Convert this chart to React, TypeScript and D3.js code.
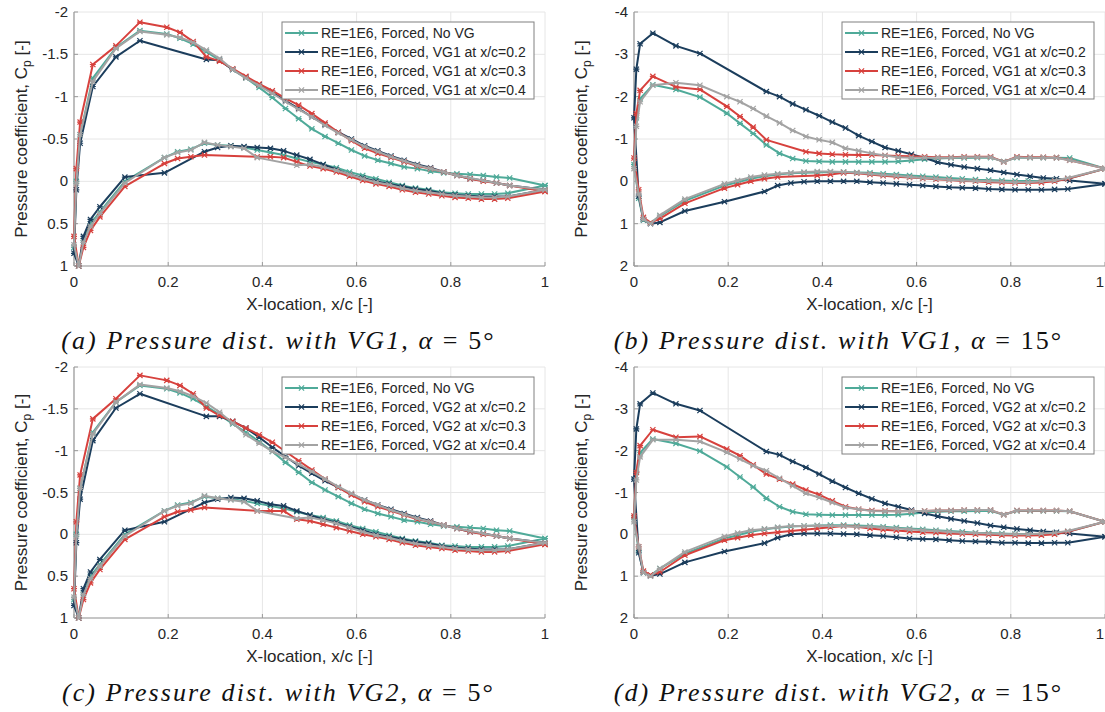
import React from 'react';
import * as d3 from 'd3';

// Pressure-tap chord positions (x/c)
const XU = [0, 0.005, 0.013, 0.04, 0.089, 0.14, 0.197, 0.225, 0.253, 0.281, 0.309, 0.337, 0.365, 0.393, 0.421, 0.449, 0.477, 0.505, 0.533, 0.561, 0.589, 0.617, 0.645, 0.673, 0.701, 0.729, 0.757, 0.785, 0.813, 0.841, 0.869, 0.897, 0.925, 1.0];
const XL = [0.01, 0.02, 0.035, 0.055, 0.108, 0.192, 0.22, 0.248, 0.277, 0.305, 0.333, 0.361, 0.389, 0.417, 0.445, 0.473, 0.501, 0.529, 0.557, 0.585, 0.613, 0.641, 0.669, 0.697, 0.725, 0.753, 0.781, 0.809, 0.837, 0.865, 0.893, 0.921];

type V = number | null;

// alpha = 5 deg, clean airfoil
const NOVG_5_U: V[] = [0.78, 0.0, -0.55, -1.22, -1.58, -1.78, -1.74, -1.69, -1.62, -1.53, -1.43, -1.32, -1.22, -1.11, -0.99, -0.86, -0.74, -0.62, -0.53, -0.45, -0.37, -0.30, -0.25, -0.21, -0.17, -0.15, -0.12, -0.10, -0.09, -0.08, -0.07, -0.05, -0.04, 0.05];
const NOVG_5_L: V[] = [1.0, 0.7, 0.5, 0.36, 0.0, -0.28, -0.35, -0.38, -0.45, -0.43, -0.42, -0.40, -0.37, -0.34, -0.31, -0.27, -0.23, -0.20, -0.16, -0.11, -0.07, -0.03, 0.01, 0.05, 0.08, 0.10, 0.13, 0.14, 0.15, 0.15, 0.15, 0.14];

// alpha = 15 deg, clean airfoil
const NOVG_15_U: V[] = [-0.4, -1.5, -1.95, -2.28, -2.17, -1.99, -1.61, -1.37, -1.13, -0.86, -0.66, -0.54, -0.48, -0.47, -0.46, -0.46, -0.46, -0.46, -0.46, -0.47, -0.49, -0.52, -0.54, -0.55, -0.55, -0.56, -0.56, -0.47, -0.56, -0.56, -0.56, -0.56, -0.55, -0.3];
const NOVG_15_L: V[] = [0.4, 0.92, 0.98, 0.82, 0.46, 0.1, 0.02, -0.06, -0.12, -0.16, -0.19, -0.2, -0.21, -0.22, -0.22, -0.21, -0.2, -0.18, -0.16, -0.14, -0.12, -0.1, -0.08, -0.06, -0.04, -0.03, -0.02, -0.01, -0.01, -0.01, -0.03, -0.06];

// VG1, alpha = 5 deg
const VG1_5_02_U: V[] = [0.85, 0.1, -0.45, -1.12, -1.47, -1.66, null, null, null, -1.44, -1.43, -1.32, -1.23, -1.14, -1.05, -0.95, -0.86, -0.76, -0.67, -0.58, -0.50, -0.42, -0.36, -0.30, -0.25, -0.20, -0.16, -0.11, -0.07, -0.03, -0.01, 0.02, 0.05, 0.1];
const VG1_5_02_L: V[] = [1.0, 0.65, 0.45, 0.3, -0.05, -0.1, null, null, -0.35, -0.40, -0.42, -0.41, -0.40, -0.39, -0.36, -0.31, -0.26, -0.20, -0.14, -0.08, -0.04, 0.0, 0.03, 0.06, 0.09, 0.11, 0.14, 0.16, 0.17, 0.18, 0.18, 0.18];
const VG1_5_03_U: V[] = [0.65, -0.15, -0.7, -1.38, -1.6, -1.88, -1.82, -1.76, -1.65, -1.47, -1.42, -1.33, -1.24, -1.15, -1.07, -0.98, -0.90, -0.80, -0.69, -0.58, -0.48, -0.39, -0.33, -0.28, -0.23, -0.18, -0.15, -0.11, -0.07, -0.03, 0.0, 0.02, 0.05, 0.12];
const VG1_5_03_L: V[] = [1.0, 0.78, 0.58, 0.42, 0.06, -0.21, -0.27, -0.29, -0.31, null, null, null, -0.29, -0.29, -0.28, -0.23, -0.18, -0.15, -0.11, -0.06, -0.01, 0.03, 0.06, 0.1, 0.13, 0.15, 0.17, 0.19, 0.2, 0.21, 0.21, 0.2];
const VG1_5_04_U: V[] = [0.75, 0.02, -0.55, -1.18, -1.57, -1.77, -1.73, -1.70, -1.64, -1.55, -1.45, -1.32, -1.22, -1.13, -1.04, -0.94, -0.85, -0.76, -0.66, -0.57, -0.49, -0.41, -0.35, -0.29, -0.24, -0.19, -0.15, -0.11, -0.07, -0.04, -0.01, 0.02, 0.05, 0.1];
const VG1_5_04_L: V[] = [1.0, 0.72, 0.53, 0.38, 0.02, -0.28, -0.34, -0.37, -0.46, -0.43, -0.41, -0.39, -0.28, null, null, -0.19, -0.2, -0.17, -0.13, -0.08, -0.03, 0.01, 0.04, 0.08, 0.11, 0.13, 0.15, 0.17, 0.18, 0.19, 0.19, 0.18];

// VG1, alpha = 15 deg
const VG1_15_02_U: V[] = [-1.5, -2.65, -3.25, -3.5, -3.2, -3.02, null, null, null, -2.12, -2.0, -1.83, -1.69, -1.55, -1.4, -1.26, -1.08, -0.94, -0.8, -0.72, -0.64, -0.55, -0.45, -0.39, -0.34, -0.3, -0.26, -0.21, -0.16, -0.12, -0.08, -0.06, -0.02, 0.06];
const VG1_15_02_L: V[] = [0.35, 0.9, 1.0, 0.97, 0.7, 0.48, null, null, 0.24, 0.1, 0.04, 0.01, 0.0, 0.0, 0.0, 0.0, 0.02, 0.04, 0.06, 0.08, 0.1, 0.12, 0.14, 0.15, 0.16, 0.18, 0.19, 0.2, 0.2, 0.2, 0.19, 0.18];
const VG1_15_03_U: V[] = [-0.55, -1.6, -2.15, -2.48, -2.23, -2.17, -1.77, -1.53, -1.28, -0.98, null, null, -0.7, -0.66, -0.64, -0.63, -0.62, -0.62, -0.61, -0.6, -0.59, -0.58, -0.57, -0.57, -0.58, -0.58, -0.58, -0.46, -0.58, -0.57, -0.57, -0.56, -0.5, -0.3];
const VG1_15_03_L: V[] = [0.2, 0.85, 0.98, 0.88, 0.52, 0.16, 0.08, 0.0, -0.06, -0.1, null, null, -0.14, -0.16, -0.2, -0.19, -0.16, -0.13, -0.11, -0.09, -0.07, -0.05, -0.03, -0.01, 0.0, 0.02, 0.03, 0.04, 0.04, 0.03, 0.0, -0.06];
const VG1_15_04_U: V[] = [-0.3, -1.3, -1.88, -2.27, -2.33, -2.27, -2.0, -1.88, -1.72, -1.54, -1.38, -1.2, -1.06, -0.98, -0.92, -0.78, -0.72, -0.66, -0.61, -0.57, -0.56, -0.56, -0.56, -0.56, -0.57, -0.57, -0.57, -0.46, -0.57, -0.56, -0.56, -0.55, -0.5, -0.3];
const VG1_15_04_L: V[] = [0.3, 0.9, 1.0, 0.8, 0.42, 0.06, -0.02, -0.1, -0.15, -0.18, -0.2, -0.22, -0.23, -0.23, -0.22, -0.2, -0.18, -0.15, -0.13, -0.1, -0.08, -0.06, -0.04, -0.02, -0.01, 0.0, 0.01, 0.02, 0.02, 0.0, -0.02, -0.08];

// VG2, alpha = 5 deg
const VG2_5_02_U: V[] = [0.85, 0.1, -0.42, -1.12, -1.51, -1.68, null, null, null, -1.41, -1.41, -1.35, -1.27, -1.16, -1.04, -0.93, -0.82, -0.73, -0.64, -0.56, -0.48, -0.41, -0.35, -0.30, -0.25, -0.20, -0.16, -0.11, -0.07, -0.03, -0.01, 0.02, 0.05, 0.1];
const VG2_5_02_L: V[] = [1.0, 0.65, 0.45, 0.3, -0.05, -0.15, null, null, -0.38, -0.42, -0.44, -0.43, -0.40, -0.36, -0.34, -0.28, -0.23, -0.18, -0.14, -0.09, -0.05, 0.0, 0.03, 0.06, 0.09, 0.11, 0.14, 0.16, 0.17, 0.18, 0.18, 0.18];
const VG2_5_03_U: V[] = [0.65, -0.15, -0.71, -1.38, -1.62, -1.9, -1.84, -1.78, -1.68, -1.51, -1.42, -1.35, -1.27, -1.19, -1.1, -0.99, -0.88, -0.77, -0.66, -0.56, -0.47, -0.39, -0.33, -0.28, -0.23, -0.18, -0.15, -0.11, -0.07, -0.03, 0.0, 0.02, 0.05, 0.12];
const VG2_5_03_L: V[] = [1.0, 0.78, 0.58, 0.42, 0.06, -0.21, -0.27, -0.29, -0.32, null, null, null, -0.28, -0.28, -0.28, -0.18, -0.16, -0.12, -0.08, -0.04, 0.0, 0.03, 0.06, 0.1, 0.13, 0.15, 0.17, 0.19, 0.2, 0.21, 0.21, 0.2];
const VG2_5_04_U: V[] = [0.75, 0.02, -0.55, -1.2, -1.58, -1.79, -1.75, -1.71, -1.65, -1.57, -1.46, -1.33, -1.19, -1.09, -0.99, -0.92, -0.84, -0.75, -0.66, -0.57, -0.49, -0.41, -0.35, -0.29, -0.24, -0.19, -0.15, -0.11, -0.07, -0.04, -0.01, 0.02, 0.05, 0.1];
const VG2_5_04_L: V[] = [1.0, 0.72, 0.53, 0.38, 0.02, -0.28, -0.34, -0.37, -0.46, -0.43, -0.41, -0.39, -0.28, null, null, -0.19, -0.2, -0.17, -0.13, -0.08, -0.03, 0.01, 0.04, 0.08, 0.11, 0.13, 0.15, 0.17, 0.18, 0.19, 0.19, 0.18];

// VG2, alpha = 15 deg
const VG2_15_02_U: V[] = [-1.32, -2.52, -3.12, -3.38, -3.12, -2.96, null, null, null, -1.98, -1.9, -1.74, -1.6, -1.44, -1.27, -1.12, -0.98, -0.85, -0.74, -0.66, -0.58, -0.5, -0.43, -0.37, -0.32, -0.27, -0.21, -0.17, -0.13, -0.1, -0.07, -0.05, -0.02, 0.06];
const VG2_15_02_L: V[] = [0.44, 0.91, 0.99, 0.95, 0.67, 0.41, null, null, 0.21, 0.08, 0.0, -0.02, -0.02, -0.02, -0.01, 0.0, 0.02, 0.04, 0.07, 0.1, 0.11, 0.12, 0.14, 0.16, 0.17, 0.18, 0.2, 0.2, 0.21, 0.21, 0.2, 0.2];
const VG2_15_03_U: V[] = [-0.44, -1.48, -2.12, -2.5, -2.32, -2.34, -2.04, -1.88, -1.66, -1.44, -1.32, -1.2, -1.06, -0.95, -0.8, -0.66, -0.6, -0.57, -0.56, -0.55, -0.56, -0.56, -0.57, -0.57, -0.58, -0.58, -0.58, -0.47, -0.57, -0.57, -0.57, -0.57, -0.55, -0.3];
const VG2_15_03_L: V[] = [0.3, 0.88, 0.97, 0.9, 0.5, 0.14, 0.08, 0.02, -0.02, -0.05, -0.08, -0.11, -0.14, -0.17, -0.2, -0.18, -0.14, -0.11, -0.09, -0.07, -0.05, -0.04, -0.02, -0.01, 0.0, 0.01, 0.02, 0.03, 0.03, 0.02, 0.0, -0.06];
const VG2_15_04_U: V[] = [-0.3, -1.3, -1.85, -2.26, -2.26, -2.22, -1.96, -1.8, -1.64, -1.52, -1.34, -1.16, -0.98, -0.88, -0.76, -0.64, -0.6, -0.56, -0.55, -0.55, -0.56, -0.56, -0.57, -0.57, -0.58, -0.58, -0.58, -0.47, -0.57, -0.57, -0.57, -0.57, -0.55, -0.3];
const VG2_15_04_L: V[] = [0.3, 0.92, 1.0, 0.82, 0.42, 0.05, -0.03, -0.1, -0.13, -0.17, -0.2, -0.2, -0.21, -0.2, -0.2, -0.18, -0.18, -0.16, -0.14, -0.12, -0.1, -0.08, -0.06, -0.04, -0.03, -0.02, -0.01, 0.0, 0.0, -0.02, -0.04, -0.08];

const SERIES_COLORS = ['#4faa99', '#1b3d5c', '#d7413d', '#a3a3a3'];
const VG_POSITIONS = ['0.2', '0.3', '0.4'];
const X_TICKS = [0, 0.2, 0.4, 0.6, 0.8, 1];
const Y_TICKS_5 = [-2, -1.5, -1, -0.5, 0, 0.5, 1];
const Y_TICKS_15 = [-4, -3, -2, -1, 0, 1, 2];

type SeriesData = { upper: V[]; lower: V[] };

const PANELS = [
  { tag: 'a', vg: 'VG1', aoa: '5', left: 74, top: 12, bottom: 266, yTicks: Y_TICKS_5,
    series: [{ upper: NOVG_5_U, lower: NOVG_5_L }, { upper: VG1_5_02_U, lower: VG1_5_02_L }, { upper: VG1_5_03_U, lower: VG1_5_03_L }, { upper: VG1_5_04_U, lower: VG1_5_04_L }] },
  { tag: 'b', vg: 'VG1', aoa: '15', left: 634, top: 12, bottom: 266, yTicks: Y_TICKS_15,
    series: [{ upper: NOVG_15_U, lower: NOVG_15_L }, { upper: VG1_15_02_U, lower: VG1_15_02_L }, { upper: VG1_15_03_U, lower: VG1_15_03_L }, { upper: VG1_15_04_U, lower: VG1_15_04_L }] },
  { tag: 'c', vg: 'VG2', aoa: '5', left: 74, top: 367, bottom: 618, yTicks: Y_TICKS_5,
    series: [{ upper: NOVG_5_U, lower: NOVG_5_L }, { upper: VG2_5_02_U, lower: VG2_5_02_L }, { upper: VG2_5_03_U, lower: VG2_5_03_L }, { upper: VG2_5_04_U, lower: VG2_5_04_L }] },
  { tag: 'd', vg: 'VG2', aoa: '15', left: 634, top: 367, bottom: 618, yTicks: Y_TICKS_15,
    series: [{ upper: NOVG_15_U, lower: NOVG_15_L }, { upper: VG2_15_02_U, lower: VG2_15_02_L }, { upper: VG2_15_03_U, lower: VG2_15_03_L }, { upper: VG2_15_04_U, lower: VG2_15_04_L }] },
];

const PLOT_W = 471;
const CANVAS_W = 1105;
const SANS = 'Liberation Sans, Arial, Helvetica, sans-serif';
const SERIF = 'Liberation Serif, Times New Roman, serif';

// Trace: trailing edge -> leading edge along the upper side, then back along the lower side
function contour(s: SeriesData): [number, number][] {
  const pts: [number, number][] = [];
  for (let i = XU.length - 1; i >= 0; i--) {
    const v = s.upper[i];
    if (v != null) pts.push([XU[i], v]);
  }
  for (let i = 0; i < XL.length; i++) {
    const v = s.lower[i];
    if (v != null) pts.push([XL[i], v]);
  }
  const te = s.upper[XU.length - 1];
  if (te != null) pts.push([XU[XU.length - 1], te]);
  return pts;
}

const MARK = 'M-2.6,-2.6L2.6,2.6M-2.6,2.6L2.6,-2.6M-3,0L3,0';

function Panel({ p }: { p: typeof PANELS[number] }) {
  const x = d3.scaleLinear().domain([0, 1]).range([p.left, p.left + PLOT_W]);
  const yDom = [p.yTicks[0], p.yTicks[p.yTicks.length - 1]];
  const y = d3.scaleLinear().domain(yDom).range([p.top, p.bottom]);
  const line = d3.line<[number, number]>().x(d => x(d[0])).y(d => y(d[1]));
  const right = p.left + PLOT_W;
  const midY = (p.top + p.bottom) / 2;
  const legendLabels = [
    'RE=1E6, Forced, No VG',
    ...VG_POSITIONS.map(v => `RE=1E6, Forced, ${p.vg} at x/c=${v}`),
  ];
  const lgX = right - 263;
  const lgY = p.top + 10;
  return (
    <g>
      {/* grid */}
      {X_TICKS.map(t => (
        <line key={'gx' + t} x1={x(t)} x2={x(t)} y1={p.top} y2={p.bottom} stroke="#e6e6e6" strokeWidth={1} />
      ))}
      {p.yTicks.map(t => (
        <line key={'gy' + t} x1={p.left} x2={right} y1={y(t)} y2={y(t)} stroke="#e6e6e6" strokeWidth={1} />
      ))}
      {/* axes */}
      <line x1={p.left} x2={p.left} y1={p.top} y2={p.bottom} stroke="#9a9a9a" strokeWidth={1.2} />
      <line x1={p.left} x2={right} y1={p.bottom} y2={p.bottom} stroke="#9a9a9a" strokeWidth={1.2} />
      {X_TICKS.map(t => (
        <line key={'tx' + t} x1={x(t)} x2={x(t)} y1={p.bottom} y2={p.bottom - 4} stroke="#9a9a9a" />
      ))}
      {p.yTicks.map(t => (
        <line key={'ty' + t} x1={p.left} x2={p.left + 4} y1={y(t)} y2={y(t)} stroke="#9a9a9a" />
      ))}
      {X_TICKS.map(t => (
        <text key={'lx' + t} x={Math.min(x(t), CANVAS_W - 5)} y={p.bottom + 21} textAnchor="middle" fontSize={15} fontFamily={SANS} fill="#262626">{String(t)}</text>
      ))}
      {p.yTicks.map(t => (
        <text key={'ly' + t} x={p.left - 6} y={y(t) + 5} textAnchor="end" fontSize={15} fontFamily={SANS} fill="#262626">{String(t)}</text>
      ))}
      <text x={(p.left + right) / 2} y={p.bottom + 44} textAnchor="middle" fontSize={17} fontFamily={SANS} fill="#262626">X-location, x/c [-]</text>
      <text transform={`translate(${p.left - 47},${midY}) rotate(-90)`} textAnchor="middle" fontSize={17} fontFamily={SANS} fill="#262626">
        Pressure coefficient, C<tspan fontSize={12} dy={4}>p</tspan><tspan dy={-4}> [-]</tspan>
      </text>
      {/* data */}
      {p.series.map((s, i) => {
        const pts = contour(s);
        return (
          <g key={'s' + i}>
            <path d={line(pts) || ''} fill="none" stroke={SERIES_COLORS[i]} strokeWidth={2} strokeLinejoin="round" />
            {pts.map((d, j) => (
              <path key={j} d={MARK} transform={`translate(${x(d[0])},${y(d[1])})`} stroke={SERIES_COLORS[i]} strokeWidth={1.2} fill="none" />
            ))}
          </g>
        );
      })}
      {/* legend */}
      <rect x={lgX} y={lgY} width={252} height={77} fill="#ffffff" stroke="#808080" strokeWidth={1} />
      {legendLabels.map((lab, i) => {
        const ry = lgY + 11 + i * 19;
        return (
          <g key={'lg' + i}>
            <line x1={lgX + 3} x2={lgX + 36} y1={ry} y2={ry} stroke={SERIES_COLORS[i]} strokeWidth={2} />
            <path d={MARK} transform={`translate(${lgX + 19.5},${ry})`} stroke={SERIES_COLORS[i]} strokeWidth={1.2} fill="none" />
            <text x={lgX + 39} y={ry + 5} fontSize={14} fontFamily={SANS} fill="#262626">{lab}</text>
          </g>
        );
      })}
      {/* caption */}
      <text x={(p.left + right) / 2 - 31} y={p.bottom + 83} textAnchor="middle" fontSize={26} letterSpacing={2.1} fontFamily={SERIF} fill="#111">
        <tspan fontStyle="italic">({p.tag}) Pressure dist. with {p.vg}, α</tspan>
        <tspan> = {p.aoa}°</tspan>
      </text>
    </g>
  );
}

export default function App() {
  return (
    <div style={{ position: 'absolute', left: 0, top: 0 }}>
      <svg width={CANVAS_W} height={712} style={{ display: 'block', background: '#ffffff' }}>
        <rect x={0} y={0} width={CANVAS_W} height={712} fill="#ffffff" />
        {PANELS.map(p => <Panel key={p.tag} p={p} />)}
      </svg>
    </div>
  );
}
